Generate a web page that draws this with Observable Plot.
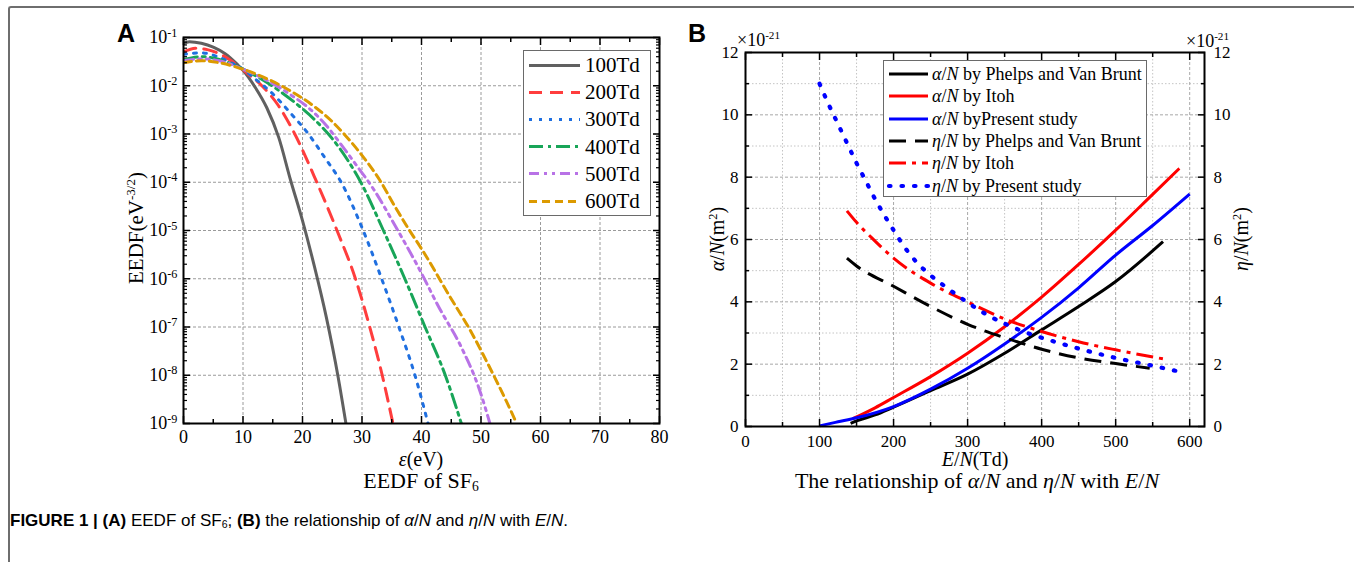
<!DOCTYPE html>
<html><head><meta charset="utf-8">
<script src="https://cdn.jsdelivr.net/npm/d3@7"></script>
<script src="https://cdn.jsdelivr.net/npm/@observablehq/plot@0.6"></script>
<style>
body{margin:0;background:#fff;}
#fig{position:relative;width:1354px;height:562px;overflow:hidden;font-family:"Liberation Serif","Times New Roman",serif;color:#000;background:#fff;}
.abs{position:absolute;white-space:nowrap;line-height:1;}
.frame{position:absolute;left:8px;top:6px;width:1400px;height:600px;border-left:2px solid #6e6e6e;border-top:2px solid #6e6e6e;border-top-left-radius:3px;}
.legend{position:absolute;background:#fff;border:1.5px solid #6a6a6a;box-sizing:border-box;}
.legend .row{position:absolute;left:0;display:flex;align-items:center;white-space:nowrap;line-height:1;}
sup{font-size:0.62em;vertical-align:0.6em;line-height:0;}
sub{font-size:0.62em;vertical-align:-0.25em;line-height:0;}
</style></head>
<body><div id="fig"><div class="frame"></div></div>
<script>
// ---------------- Panel A: EEDF of SF6 ----------------
const eedfLabels = ["100Td", "200Td", "300Td", "400Td", "500Td", "600Td"];
const eedf100Td = [[0,0.075],[1,0.082],[3,0.076],[5,0.063],[7,0.046],[9,0.028],[10,0.021],[12,0.0095],[14,0.0035],[16,8.5e-4],[18,1.1e-4],[20,1.6e-5],[22,1.8e-6],[24,1.6e-7],[26,9e-9],[27.3,1e-9]];
const eedf200Td = [[0,0.05],[2,0.06],[4,0.056],[6,0.046],[8,0.033],[10,0.021],[13,0.0105],[16,0.0038],[18.7,0.001],[22.4,1e-4],[25.8,1e-5],[28.9,1e-6],[31.3,1e-7],[33.4,1e-8],[35.2,1e-9]];
const eedf300Td = [[0,0.045],[3,0.048],[6,0.039],[8,0.03],[10,0.022],[12,0.014],[15,0.0068],[18,0.0027],[21,0.001],[23.7,3.3e-4],[26.5,1e-4],[30.2,1e-5],[33.3,1e-6],[36.2,1e-7],[38.9,1e-8],[41.1,1e-9]];
const eedf400Td = [[0,0.035],[3,0.04],[6,0.035],[10,0.022],[13,0.014],[16,0.008],[19,0.0042],[22,0.002],[25,8e-4],[27.5,3e-4],[29.8,1e-4],[33.6,1e-5],[37.2,1e-6],[40.6,1e-7],[44,1e-8],[46.7,1e-9]];
const eedf500Td = [[0,0.033],[3,0.036],[6,0.033],[10,0.022],[14,0.013],[18,0.0065],[21,0.0035],[24,0.0015],[26.5,6e-4],[29,2.3e-4],[32,7e-5],[35.5,1.3e-5],[39.5,1.7e-6],[42.9,2.6e-7],[46.7,3.8e-8],[49.8,4.8e-9],[51.5,1e-9]];
const eedf600Td = [[0,0.03],[3,0.033],[6,0.03],[10,0.022],[14,0.014],[18,0.0078],[22,0.0037],[25,0.0018],[27.5,8.5e-4],[30,3.6e-4],[33,1.1e-4],[35.5,3.2e-5],[38,1e-5],[40.1,4e-6],[44.8,4.2e-7],[48.2,8.5e-8],[52,1.07e-8],[54.2,3e-9],[56,1e-9]];
const eedfTicksX = [0, 10, 20, 30, 40, 50, 60, 70, 80];
const eedfTicksY = [1e-9, 1e-8, 1e-7, 1e-6, 1e-5, 1e-4, 1e-3, 1e-2, 1e-1];

// ---------------- Panel B: alpha/N and eta/N vs E/N (x 1e-21 m^2) ----------------
const bLabels = ["α/N by Phelps and Van Brunt", "α/N by Itoh", "α/N byPresent study", "η/N by Phelps and Van Brunt", "η/N by Itoh", "η/N by Present study"];
const alphaPhelps = [[142,0.1],[150,0.18],[175,0.37],[200,0.62],[250,1.15],[300,1.68],[350,2.35],[400,3.1],[450,3.85],[500,4.65],[564,5.93]];
const alphaItoh = [[145,0.25],[175,0.6],[200,0.93],[250,1.6],[300,2.35],[350,3.2],[400,4.15],[450,5.2],[500,6.3],[550,7.45],[586,8.28]];
const alphaPresent = [[100,0.02],[125,0.15],[150,0.28],[200,0.64],[250,1.2],[300,1.87],[350,2.65],[400,3.5],[450,4.45],[500,5.5],[550,6.45],[600,7.46]];
const etaPhelps = [[137,5.4],[150,5.15],[200,4.5],[250,3.85],[300,3.28],[350,2.85],[400,2.48],[450,2.2],[500,2.02],[546,1.87]];
const etaItoh = [[137,6.92],[150,6.55],[175,5.95],[200,5.4],[250,4.6],[300,4.0],[350,3.45],[400,3.05],[450,2.72],[500,2.46],[571,2.14]];
const etaPresent = [[100,11.0],[112,10.35],[125,9.7],[137,9.1],[150,8.45],[162,7.9],[175,7.3],[187,6.8],[200,6.3],[215,5.75],[232,5.25],[250,4.85],[275,4.4],[300,3.98],[325,3.6],[350,3.3],[375,3.05],[400,2.85],[450,2.5],[500,2.2],[550,1.95],[586,1.76]];
const bTicksX = [0, 100, 200, 300, 400, 500, 600];
const bTicksY = [0, 2, 4, 6, 8, 10, 12];

// ---------------- styles ----------------
const eedfData = [eedf100Td, eedf200Td, eedf300Td, eedf400Td, eedf500Td, eedf600Td];
const eedfStyle = [
  {color: "#606060", dash: null, cap: "butt"},
  {color: "#ff3d3d", dash: "13,8", cap: "butt"},
  {color: "#1f6fe0", dash: "3,7", cap: "butt"},
  {color: "#18a558", dash: "14,5,3,5", cap: "butt"},
  {color: "#b872e6", dash: "10,5,3,5,3,5", cap: "butt"},
  {color: "#dc9a00", dash: "8,5", cap: "butt"}
];
const bData = [alphaPhelps, alphaItoh, alphaPresent, etaPhelps, etaItoh, etaPresent];
const bStyle = [
  {color: "#000000", dash: null, cap: "butt"},
  {color: "#ff0000", dash: null, cap: "butt"},
  {color: "#0000ff", dash: null, cap: "butt"},
  {color: "#000000", dash: "17,9", cap: "butt"},
  {color: "#ff0000", dash: "17,6,4,6", cap: "butt"},
  {color: "#0000ff", dash: "1.5,11", cap: "round"}
];

const rowsA = eedfLabels.flatMap((name, i) => eedfData[i].map(([e, v]) => ({name, e, v})));
const rowsB = bLabels.flatMap((name, i) => bData[i].map(([x, v]) => ({name, x, v})));

const fig = document.getElementById("fig");
const blank = () => "";

// ---------- Plot A ----------
const minorYA = d3.range(-9, -1).flatMap(k => d3.range(2, 10).map(m => m * Math.pow(10, k)));
const plotA = Plot.plot({
  width: 680, height: 480,
  marginLeft: 183, marginRight: 21, marginTop: 37, marginBottom: 57,
  x: {domain: [0, 80]},
  y: {type: "log", domain: [1e-9, 1e-1]},
  style: {fontFamily: "Liberation Serif, Times New Roman, serif", fontSize: "18px", color: "#000", background: "transparent", overflow: "visible"},
  marks: [
    Plot.gridX(eedfTicksX.slice(1, -1), {stroke: "#9a9a9a", strokeOpacity: 1, strokeDasharray: "3,2", strokeWidth: 1}),
    Plot.gridY(eedfTicksY.slice(1, -1), {stroke: "#9a9a9a", strokeOpacity: 1, strokeDasharray: "3,2", strokeWidth: 1}),
    ...eedfLabels.map((name, i) => Plot.line(rowsA.filter(d => d.name === name), {
      x: "e", y: "v", stroke: eedfStyle[i].color, strokeWidth: 3, strokeDasharray: eedfStyle[i].dash, curve: "monotone-x", clip: true
    })),
    Plot.axisX(eedfTicksX, {anchor: "bottom", tickSize: -7, tickFormat: blank, label: null, strokeWidth: 1.5}),
    Plot.axisX(d3.range(5, 80, 10), {anchor: "bottom", tickSize: -4, tickFormat: blank, label: null, strokeWidth: 1.5}),
    Plot.axisX(eedfTicksX, {anchor: "top", tickSize: -7, tickFormat: blank, label: null, strokeWidth: 1.5}),
    Plot.axisX(d3.range(5, 80, 10), {anchor: "top", tickSize: -4, tickFormat: blank, label: null, strokeWidth: 1.5}),
    Plot.axisY(eedfTicksY, {anchor: "left", tickSize: -7, tickFormat: blank, label: null, strokeWidth: 1.5}),
    Plot.axisY(minorYA, {anchor: "left", tickSize: -4, tickFormat: blank, label: null, strokeWidth: 1.2}),
    Plot.axisY(eedfTicksY, {anchor: "right", tickSize: -7, tickFormat: blank, label: null, strokeWidth: 1.5}),
    Plot.axisY(minorYA, {anchor: "right", tickSize: -4, tickFormat: blank, label: null, strokeWidth: 1.2}),
    Plot.axisX(eedfTicksX, {anchor: "bottom", tickSize: 0, tickPadding: 7, label: null, tickFormat: d => String(d)}),
    Plot.axisY(eedfTicksY, {anchor: "left", tickSize: 0, tickPadding: 6, label: null, tickFormat: d => "10^" + Math.round(Math.log10(d))}),
    Plot.frame({stroke: "#000", strokeWidth: 2})
  ]
});
// superscript exponents on log tick labels
d3.select(plotA).selectAll("text").each(function() {
  const t = this.textContent;
  if (t.startsWith("10^")) {
    const sel = d3.select(this);
    sel.text(null);
    sel.append("tspan").text("10");
    sel.append("tspan").attr("dy", "-0.55em").attr("font-size", "0.68em").text(t.slice(3));
  }
});
const wrapA = document.createElement("div");
wrapA.style.cssText = "position:absolute;left:0;top:0;";
wrapA.appendChild(plotA);
fig.appendChild(wrapA);

// ---------- Plot B ----------
const plotB = Plot.plot({
  width: 674, height: 480,
  marginLeft: 65, marginRight: 150, marginTop: 52, marginBottom: 54,
  x: {domain: [0, 620]},
  y: {domain: [0, 12]},
  style: {fontFamily: "Liberation Serif, Times New Roman, serif", fontSize: "17px", color: "#000", background: "transparent", overflow: "visible"},
  marks: [
    Plot.gridX(d3.range(50, 600, 100), {stroke: "#c4c4c4", strokeOpacity: 1, strokeDasharray: "1.5,2", strokeWidth: 1}),
    Plot.gridY(d3.range(1, 12, 2), {stroke: "#c4c4c4", strokeOpacity: 1, strokeDasharray: "1.5,2", strokeWidth: 1}),
    Plot.gridX(bTicksX.slice(1), {stroke: "#a8a8a8", strokeOpacity: 1, strokeDasharray: "3,2", strokeWidth: 1}),
    Plot.gridY(bTicksY.slice(1, -1), {stroke: "#a8a8a8", strokeOpacity: 1, strokeDasharray: "3,2", strokeWidth: 1}),
    ...bLabels.map((name, i) => Plot.line(rowsB.filter(d => d.name === name), {
      x: "x", y: "v", stroke: bStyle[i].color, strokeWidth: i === 5 ? 4.2 : 3, strokeDasharray: bStyle[i].dash, strokeLinecap: bStyle[i].cap, curve: "monotone-x"
    })),
    Plot.axisX(bTicksX, {anchor: "bottom", tickSize: -7, tickFormat: blank, label: null, strokeWidth: 1.5}),
    Plot.axisX(d3.range(50, 620, 100), {anchor: "bottom", tickSize: -4, tickFormat: blank, label: null, strokeWidth: 1.5}),
    Plot.axisX(bTicksX, {anchor: "top", tickSize: -7, tickFormat: blank, label: null, strokeWidth: 1.5}),
    Plot.axisX(d3.range(50, 620, 100), {anchor: "top", tickSize: -4, tickFormat: blank, label: null, strokeWidth: 1.5}),
    Plot.axisY(bTicksY, {anchor: "left", tickSize: -7, tickFormat: blank, label: null, strokeWidth: 1.5}),
    Plot.axisY(d3.range(1, 12, 2), {anchor: "left", tickSize: -4, tickFormat: blank, label: null, strokeWidth: 1.5}),
    Plot.axisY(bTicksY, {anchor: "right", tickSize: -7, tickFormat: blank, label: null, strokeWidth: 1.5}),
    Plot.axisY(d3.range(1, 12, 2), {anchor: "right", tickSize: -4, tickFormat: blank, label: null, strokeWidth: 1.5}),
    Plot.axisX(bTicksX, {anchor: "bottom", tickSize: 0, tickPadding: 8, label: null, tickFormat: d => String(d)}),
    Plot.axisY(bTicksY, {anchor: "left", tickSize: 0, tickPadding: 7, label: null, tickFormat: d => String(d)}),
    Plot.axisY(bTicksY, {anchor: "right", tickSize: 0, tickPadding: 9, label: null, tickFormat: d => String(d)}),
    Plot.frame({stroke: "#000", strokeWidth: 2})
  ]
});
const wrapB = document.createElement("div");
wrapB.style.cssText = "position:absolute;left:680px;top:0;";
wrapB.appendChild(plotB);
fig.appendChild(wrapB);

// ---------- text helpers ----------
function place(html, x, y, o = {}) {
  const d = document.createElement("div");
  d.className = "abs";
  d.innerHTML = html;
  d.style.left = x + "px";
  d.style.top = y + "px";
  d.style.fontSize = (o.size || 20) + "px";
  if (o.weight) d.style.fontWeight = o.weight;
  if (o.family) d.style.fontFamily = o.family;
  const tx = o.anchor === "start" ? "0" : o.anchor === "end" ? "-100%" : "-50%";
  d.style.transform = `translate(${tx},-50%)` + (o.rotate ? ` rotate(${o.rotate}deg)` : "");
  fig.appendChild(d);
  return d;
}

// panel letters
place("A", 126, 33, {size: 25, weight: "bold", family: "Liberation Sans, Arial, sans-serif"});
place("B", 697, 33, {size: 25, weight: "bold", family: "Liberation Sans, Arial, sans-serif"});

// Panel A texts
place("EEDF(eV<sup>-3/2</sup>)", 136, 228, {size: 21, rotate: -90});
place("<i>ε</i>(eV)", 421, 459, {size: 20});
place("EEDF of SF<sub>6</sub>", 421, 481, {size: 22});

// Panel B texts
place("×10<sup>-21</sup>", 737, 40, {size: 18, anchor: "start"});
place("×10<sup>-21</sup>", 1186, 41, {size: 18, anchor: "start"});
place("<i>α</i>/<i>N</i>(m<sup>2</sup>)", 717, 239, {size: 20, rotate: -90});
place("<i>η</i>/<i>N</i>(m<sup>2</sup>)", 1241, 239, {size: 20, rotate: -90});
place("<i>E</i>/<i>N</i>(Td)", 975, 459, {size: 20});
place("The relationship of <i>α</i>/<i>N</i> and <i>η</i>/<i>N</i> with <i>E</i>/<i>N</i>", 977, 481, {size: 22});

// caption
place("<b>FIGURE 1 | (A)</b> EEDF of SF<sub>6</sub>; <b>(B)</b> the relationship of <i>α</i>/<i>N</i> and <i>η</i>/<i>N</i> with <i>E</i>/<i>N</i>.", 10, 520,
  {size: 17, anchor: "start", family: "Liberation Sans, Arial, sans-serif"});

// ---------- legends ----------
function legend(box, labels, styles, opts) {
  const L = document.createElement("div");
  L.className = "legend";
  L.style.left = box.x + "px"; L.style.top = box.y + "px";
  L.style.width = box.w + "px"; L.style.height = box.h + "px";
  labels.forEach((lab, i) => {
    const r = document.createElement("div");
    r.className = "row";
    r.style.top = (opts.first + i * opts.step - box.y) + "px";
    r.style.transform = "translateY(-50%)";
    r.style.fontSize = opts.size + "px";
    const sw = opts.sample;
    const st = styles[i];
    const w = (opts.widths && opts.widths[i]) || 3.2;
    r.innerHTML = `<svg width="${sw + 6}" height="10" style="margin-left:2px;margin-right:${opts.gap}px;overflow:visible"><line x1="3" x2="${sw + 2}" y1="5" y2="5" stroke="${st.color}" stroke-width="${w}" stroke-linecap="${st.cap}" ${st.dash ? `stroke-dasharray="${st.dash}"` : ""}/></svg><span>${opts.fmt(lab)}</span>`;
    L.appendChild(r);
  });
  fig.appendChild(L);
}
legend({x: 523, y: 50, w: 128, h: 166}, eedfLabels, eedfStyle, {first: 64, step: 27.2, size: 21, sample: 52, gap: 1, fmt: s => s});
const fmtB = s => s.replace(/^(α|η)\/N/, "<i>$1</i>/<i>N</i>");
legend({x: 883, y: 60, w: 264, h: 137}, bLabels, bStyle, {first: 73, step: 22.3, size: 18, sample: 40, gap: 0, fmt: fmtB, widths: [3.2, 3.2, 3.2, 3.2, 3.2, 4.2]});
</script>
</body></html>
